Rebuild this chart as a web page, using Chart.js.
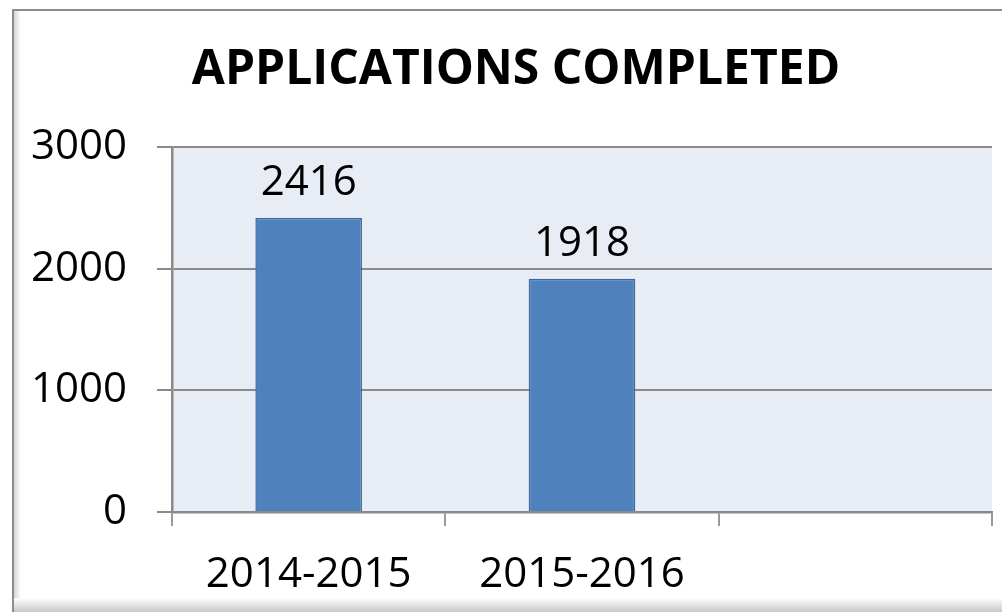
<!DOCTYPE html>
<html>
<head>
<meta charset="utf-8">
<script src="https://cdn.jsdelivr.net/npm/chart.js@4.4.1/dist/chart.umd.min.js"></script>
<style>
  html, body { margin: 0; padding: 0; background: #fff; }
  #wrap { width: 1002px; height: 612px; }
</style>
</head>
<body>
<div id="wrap"><canvas id="chart" width="1002" height="612"></canvas></div>
<script>
// chart data
const chartTitle = 'APPLICATIONS COMPLETED';
const categories = ['2014-2015', '2015-2016', ''];
const completed = [2416, 1918, null];
const yTicks = [0, 1000, 2000, 3000];

const GRID = '#8a8a8a';
const FONT = "'Open Sans', sans-serif";

// frame + shadow around the whole chart, and the plot area fill
const framePlugin = {
  id: 'frame',
  beforeDraw(chart) {
    const { ctx, width, height, chartArea } = chart;
    ctx.save();
    ctx.fillStyle = '#fff';
    ctx.fillRect(0, 0, width, height);

    // bottom shadow
    const g = ctx.createLinearGradient(0, 598, 0, height);
    g.addColorStop(0, '#ffffff');
    g.addColorStop(1, '#c8c8c8');
    ctx.fillStyle = g;
    ctx.fillRect(13, 598, width, height - 598);

    // inner left shadow
    const gl = ctx.createLinearGradient(13, 0, 21, 0);
    gl.addColorStop(0, '#d0d0d0');
    gl.addColorStop(1, '#ffffff');
    ctx.fillStyle = gl;
    ctx.fillRect(13, 10, 8, 588);

    ctx.strokeStyle = '#8c8c8c';
    ctx.lineWidth = 2;
    ctx.beginPath();
    ctx.moveTo(13, height);
    ctx.lineTo(13, 10);
    ctx.lineTo(width + 2, 10);
    ctx.stroke();

    ctx.fillStyle = '#e8ecf4';
    ctx.fillRect(chartArea.left, chartArea.top,
      chartArea.right - chartArea.left, chartArea.bottom - chartArea.top);

    // title, a bit right of the canvas centre like the original
    ctx.fillStyle = '#000';
    ctx.font = 'bold 48px ' + FONT;
    ctx.textAlign = 'center';
    ctx.textBaseline = 'alphabetic';
    ctx.fillText(chartTitle, width / 2 + 15, 84);
    ctx.restore();
  }
};

// value labels above each bar
const valueLabels = {
  id: 'valueLabels',
  afterDatasetsDraw(chart) {
    const { ctx } = chart;
    ctx.save();
    ctx.font = '42px ' + FONT;
    ctx.fillStyle = '#000';
    ctx.textAlign = 'center';
    ctx.textBaseline = 'alphabetic';
    chart.getDatasetMeta(0).data.forEach((bar, i) => {
      const v = completed[i];
      if (v == null) return;
      ctx.fillText(String(v), bar.x, bar.y - 23);
    });
    ctx.restore();
  }
};

new Chart(document.getElementById('chart'), {
  type: 'bar',
  data: {
    labels: categories,
    datasets: [{
      data: completed,
      backgroundColor: '#4f81bd',
      borderColor: '#3d6899',
      borderWidth: 1.5,
      categoryPercentage: 1,
      barPercentage: 0.39
    }]
  },
  options: {
    responsive: false,
    animation: false,
    layout: { padding: { left: 0, right: 10, top: 147, bottom: 0 } },
    plugins: {
      legend: { display: false },
      tooltip: { enabled: false },
      title: { display: false }
    },
    scales: {
      x: {
        grid: {
          offset: true,
          drawOnChartArea: false,
          drawTicks: true,
          tickLength: 14,
          color: '#999',
          lineWidth: 2
        },
        border: { display: true, color: GRID, width: 2.5 },
        ticks: {
          color: '#000',
          font: { family: FONT, size: 42, lineHeight: 1.2 },
          padding: 24,
          maxRotation: 0
        },
        afterFit(scale) { scale.height = 100; }
      },
      y: {
        min: 0,
        max: 3000,
        afterBuildTicks(scale) { scale.ticks = yTicks.map(v => ({ value: v })); },
        grid: { color: GRID, lineWidth: 2, tickLength: 15 },
        border: { display: true, color: GRID, width: 2.5 },
        ticks: {
          color: '#000',
          font: { family: FONT, size: 42 },
          padding: 30,
          callback: v => String(v)
        },
        afterFit(scale) { scale.width = 172; }
      }
    }
  },
  plugins: [framePlugin, valueLabels]
});
</script>
</body>
</html>
